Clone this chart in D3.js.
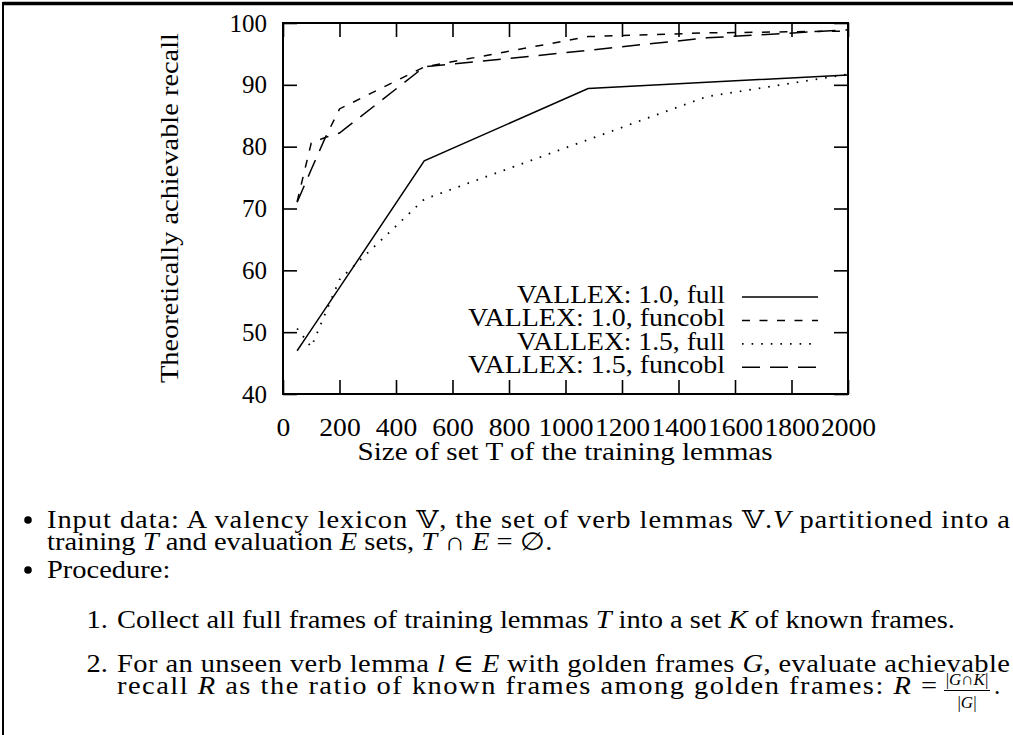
<!DOCTYPE html>
<html>
<head>
<meta charset="utf-8">
<script src="https://cdn.jsdelivr.net/npm/d3@7"></script>
<style>
  body { margin: 0; background: #fff; }
  text { font-family: "Liberation Serif", "DejaVu Serif", serif; fill: #000; }
</style>
</head>
<body>
<div id="chart"></div>
<script>
// data
var sizes10Full = [50, 100, 200, 500, 1080, 1500, 2000];
var recall10Full = [47.0, 50.4, 57.2, 77.7, 89.4, 90.4, 91.6];

var sizes10Func = [50, 100, 150, 200, 500, 1080, 1500, 2000];
var recall10Func = [71.1, 80.6, 81.5, 86.1, 92.9, 97.8, 98.4, 98.7];

var sizes15Full = [50, 100, 200, 500, 1000, 1500, 2000];
var recall15Full = [50.6, 47.6, 58.5, 71.5, 79.8, 88.1, 91.7];

var sizes15Func = [50, 100, 150, 200, 500, 1000, 1500, 2000];
var recall15Func = [71.0, 76.3, 81.5, 82.2, 92.9, 95.2, 97.6, 98.9];

var seriesNames = ["VALLEX: 1.0, full", "VALLEX: 1.0, funcobl", "VALLEX: 1.5, full", "VALLEX: 1.5, funcobl"];
var xTicks = [0, 200, 400, 600, 800, 1000, 1200, 1400, 1600, 1800, 2000];
var yTicks = [40, 50, 60, 70, 80, 90, 100];

//svg size
var svgWidth = 1013;
var svgHeight = 735;

// plot box inside the page
var margin = { top: 23, right: 165, bottom: 341, left: 283 };
var width = svgWidth - margin.left - margin.right;
var height = svgHeight - margin.top - margin.bottom;

var svg = d3.select("#chart")
  .append("svg")
  .attr("width", svgWidth)
  .attr("height", svgHeight);

// page frame (top + left rule)
svg.append("line")
  .attr("x1", 3).attr("x2", svgWidth).attr("y1", 3.5).attr("y2", 3.5)
  .attr("stroke", "#000").attr("stroke-width", 3.5);
svg.append("line")
  .attr("x1", 3).attr("x2", 3).attr("y1", 2).attr("y2", svgHeight)
  .attr("stroke", "#000").attr("stroke-width", 2);

var chartGroup = svg.append("g")
  .attr("transform", `translate(${margin.left}, ${margin.top})`);

var xScale = d3.scaleLinear().domain([0, 2000]).range([0, width]);
var yScale = d3.scaleLinear().domain([40, 100]).range([height, 0]);

var tickLen = 14;

// axes with inward ticks, mirrored on top/right
var bottomAxis = d3.axisBottom(xScale).tickValues(xTicks).tickFormat(d3.format("d"))
  .tickSizeInner(-tickLen).tickSizeOuter(0).tickPadding(tickLen + 10);
var topAxis = d3.axisTop(xScale).tickValues(xTicks).tickSizeInner(-tickLen).tickSizeOuter(0).tickFormat("");
var leftAxis = d3.axisLeft(yScale).tickValues(yTicks).tickFormat(d3.format("d"))
  .tickSizeInner(-tickLen).tickSizeOuter(0).tickPadding(tickLen + 2);
var rightAxis = d3.axisRight(yScale).tickValues(yTicks).tickSizeInner(-tickLen).tickSizeOuter(0).tickFormat("");

var xAxisG = chartGroup.append("g").attr("transform", `translate(0, ${height})`).call(bottomAxis);
chartGroup.append("g").call(topAxis);
chartGroup.append("g").call(leftAxis);
chartGroup.append("g").attr("transform", `translate(${width}, 0)`).call(rightAxis);

chartGroup.selectAll(".tick line").attr("stroke", "#000").attr("stroke-width", 1.6);
chartGroup.selectAll(".tick text")
  .style("font-family", "Liberation Serif")
  .style("font-size", "25px")
  .attr("fill", "#000");
// x labels are wide in the original, they almost touch
xAxisG.selectAll(".tick text")
  .attr("textLength", d => String(d).length * 13.8)
  .attr("lengthAdjust", "spacingAndGlyphs");
chartGroup.selectAll(".domain").remove();

// plot border
chartGroup.append("rect")
  .attr("width", width).attr("height", height)
  .attr("fill", "none").attr("stroke", "#000").attr("stroke-width", 2);

// series
var series = [
  { x: sizes10Full, y: recall10Full, dash: null, width: 1.5 },
  { x: sizes10Func, y: recall10Func, dash: "8,9.5", width: 1.5 },
  { x: sizes15Full, y: recall15Full, dash: "1.6,8", width: 1.8 },
  { x: sizes15Func, y: recall15Func, dash: "18,10", width: 1.5 }
];

var line = d3.line()
  .x(d => xScale(d[0]))
  .y(d => yScale(d[1]));

series.forEach(function(s) {
  var pts = s.x.map((v, i) => [v, s.y[i]]);
  chartGroup.append("path")
    .datum(pts)
    .attr("d", line)
    .attr("fill", "none")
    .attr("stroke", "#000")
    .attr("stroke-width", s.width)
    .attr("stroke-dasharray", s.dash);
});

// legend (text right aligned, sample on the right)
var legendTextX = 725 - margin.left;
var legendBase = 303 - margin.top;
var legendStep = 23.4;
series.forEach(function(s, i) {
  var y = legendBase + i * legendStep;
  chartGroup.append("text")
    .attr("x", legendTextX)
    .attr("y", y)
    .attr("text-anchor", "end")
    .style("font-size", "25px")
    .attr("textLength", i % 2 === 0 ? 208 : 257)
    .attr("lengthAdjust", "spacingAndGlyphs")
    .text(seriesNames[i]);
  chartGroup.append("line")
    .attr("x1", 742 - margin.left).attr("x2", 818 - margin.left)
    .attr("y1", y - 6).attr("y2", y - 6)
    .attr("stroke", "#000")
    .attr("stroke-width", s.width)
    .attr("stroke-dasharray", s.dash);
});

// axis titles
svg.append("text")
  .attr("x", 565).attr("y", 460)
  .attr("text-anchor", "middle")
  .style("font-size", "25px")
  .attr("textLength", 415)
  .attr("lengthAdjust", "spacingAndGlyphs")
  .text("Size of set T of the training lemmas");

svg.append("text")
  .attr("transform", "translate(178, 208) rotate(-90)")
  .attr("text-anchor", "middle")
  .style("font-size", "25px")
  .attr("textLength", 350)
  .attr("lengthAdjust", "spacingAndGlyphs")
  .text("Theoretically achievable recall");

// text under the chart; glyphs are wider than Times
var stretch = 1.14;

// segments: [string, italic]
function addLine(x, y, len, parts, anchor) {
  var t = svg.append("text")
    .attr("transform", `translate(${x}, ${y}) scale(${stretch}, 1)`)
    .attr("text-anchor", anchor || "start")
    .style("font-size", "25px");
  if (len) t.attr("textLength", len / stretch).attr("lengthAdjust", "spacing");
  parts.forEach(function(p) {
    t.append("tspan")
      .style("font-style", p[1] ? "italic" : "normal")
      .text(p[0]);
  });
  return t;
}

function bullet(y) {
  svg.append("circle").attr("cx", 28).attr("cy", y).attr("r", 3.8).attr("fill", "#000");
}

bullet(520);
addLine(47, 528, 963, [["Input data: A valency lexicon ", 0], ["\u{1D54D}", 0], [", the set of verb lemmas ", 0], ["\u{1D54D}", 0], [".", 0], ["V", 1], [" partitioned into a", 0]]);
addLine(47, 550, null, [["training ", 0], ["T", 1], [" and evaluation ", 0], ["E", 1], [" sets, ", 0], ["T", 1], [" \u2229 ", 0], ["E", 1], [" = \u2205.", 0]]);

bullet(570);
addLine(47, 578, null, [["Procedure:", 0]]);

addLine(108, 628, null, [["1.", 0]], "end");
addLine(117, 628, null, [["Collect all full frames of training lemmas ", 0], ["T", 1], [" into a set ", 0], ["K", 1], [" of known frames.", 0]]);

addLine(108, 672, null, [["2.", 0]], "end");
addLine(117, 672, 893, [["For an unseen verb lemma ", 0], ["l", 1], [" \u2208 ", 0], ["E", 1], [" with golden frames ", 0], ["G", 1], [", evaluate achievable", 0]]);
addLine(117, 694, 820, [["recall ", 0], ["R", 1], [" as the ratio of known frames among golden frames:  ", 0], ["R", 1], [" = ", 0]]);

// fraction |G∩K| / |G|
var fracX = 967;
var num = svg.append("text").attr("x", fracX).attr("y", 685).attr("text-anchor", "middle").style("font-size", "17px");
num.append("tspan").text("|");
num.append("tspan").style("font-style", "italic").text("G");
num.append("tspan").text("\u2229");
num.append("tspan").style("font-style", "italic").text("K");
num.append("tspan").text("|");
svg.append("line").attr("x1", fracX - 23).attr("x2", fracX + 23).attr("y1", 690.5).attr("y2", 690.5).attr("stroke", "#000").attr("stroke-width", 1);
var den = svg.append("text").attr("x", fracX).attr("y", 708).attr("text-anchor", "middle").style("font-size", "17px");
den.append("tspan").text("|");
den.append("tspan").style("font-style", "italic").text("G");
den.append("tspan").text("|");
svg.append("text").attr("x", fracX + 27).attr("y", 694).style("font-size", "25px").text(".");
</script>
</body>
</html>
